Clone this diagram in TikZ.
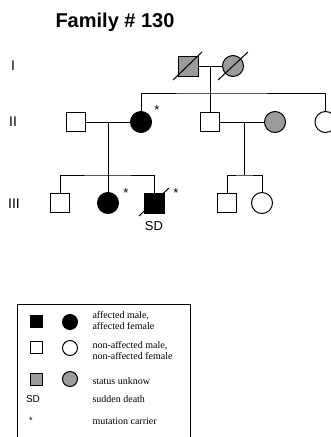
\documentclass[tikz,border=0pt]{standalone}
\usepackage{fontspec}
\setmainfont{Liberation Serif}
\newfontfamily\pedfont{Liberation Sans}
\usepackage{xcolor}
\usetikzlibrary{positioning}
\definecolor{unknowngray}{RGB}{155,155,155}
\tikzset{
  male/.style={draw, rectangle, minimum size=19pt, inner sep=0pt},
  female/.style={draw, circle, minimum size=21pt, inner sep=0pt},
  affected/.style={fill=black},
  unknown/.style={fill=unknowngray},
  gen/.style={font=\pedfont\fontsize{14}{14}\selectfont},
  carrier/.style={font=\pedfont\fontsize{13}{13}\selectfont, inner sep=0pt},
  legmale/.style={draw, rectangle, minimum size=12pt, inner sep=0pt},
  legfemale/.style={draw, circle, minimum size=15pt, inner sep=0pt},
  legtext/.style={font=\fontsize{10}{11}\selectfont, align=left, anchor=west, inner sep=0pt},
}

\begin{document}
\begin{tikzpicture}[x=1pt, y=-1pt, line width=1pt]
        \useasboundingbox (0,0) rectangle (331,437);

        \node [font=\pedfont\bfseries\fontsize{20}{20}\selectfont] (title) at (115,22) {Family \# 130};

        \node [gen] (genI) at (13,66) {I};
        \node [gen] (genII) at (13,122) {II};
        \node [gen] (genIII) at (14,204) {III};

        % generation I
        \node [male, minimum size=20pt, unknown] (grandpa) at (188,66) {};
        \node [female, unknown] (grandma) at (233,66) {};
        \draw ([shift={(-15,14)}]grandpa.center) -- ([shift={(14,-14)}]grandpa.center);
        \draw ([shift={(-15,14)}]grandma.center) -- ([shift={(15,-14)}]grandma.center);
        \coordinate (mateI) at (210,66);
        \coordinate (sibII) at (210,93);
        \draw (grandpa) -- (grandma);
        \draw (mateI) -- (sibII);

        % generation II
        \node [male] (husband) at (75.5,122) {};
        \node [female, affected] (daughter) at (141,122) {};
        \node [male] (son) at (210,122) {};
        \node [female, unknown] (wife) at (275,122) {};
        \node [female] (aunt) at (325.5,122) {};
        \node [carrier] (starII) at (157,110) {*};
        \draw (daughter.north) |- (sibII) -| (aunt.north);
        \draw (sibII) -- (son);
        \draw (husband) -- (daughter);
        \draw (son) -- (wife);
        \coordinate (mateIIa) at (108,122);
        \coordinate (sibIIIa) at (108,175);
        \coordinate (mateIIb) at (244,122);
        \coordinate (sibIIIb) at (244,175);
        \draw (mateIIa) -- (sibIIIa);
        \draw (mateIIb) -- (sibIIIb);

        % generation III
        \node [male] (grandson) at (60,203) {};
        \node [female, affected] (granddaughter) at (108,203) {};
        \node [male, minimum size=20pt, affected] (proband) at (154,203) {};
        \node [male] (nephew) at (227,203) {};
        \node [female] (niece) at (262,203) {};
        \draw ([shift={(-15,13)}]proband.center) -- ([shift={(15,-15)}]proband.center);
        \node [font=\pedfont\fontsize{13}{13}\selectfont, below=4pt of proband] (sd) {SD};
        \node [carrier] (starIIIa) at (126,193) {*};
        \node [carrier] (starIIIb) at (176,193) {*};
        \draw (grandson.north) |- (sibIIIa) -| (proband.north);
        \draw (sibIIIa) -- (granddaughter);
        \draw (nephew.north) |- (sibIIIb) -| (niece.north);

        % legend
        \draw (17,304) rectangle (190,447);
        \node [legmale, affected] (legm1) at (36,321) {};
        \node [legfemale, affected] (legf1) at (70,322) {};
        \node [legtext] (legt1) at (92,321) {affected male,\\affected female};
        \node [legmale] (legm2) at (36,347.5) {};
        \node [legfemale] (legf2) at (70,348) {};
        \node [legtext] (legt2) at (92,351) {non-affected male,\\non-affected female};
        \node [legmale, unknown] (legm3) at (36,379) {};
        \node [legfemale, unknown] (legf3) at (70,379) {};
        \node [legtext] (legt3) at (92,381) {status unknow};
        \node [font=\pedfont\fontsize{10}{10}\selectfont] (legsd) at (33,399) {SD};
        \node [legtext] (legt4) at (92,399) {sudden death};
        \node [carrier, font=\pedfont\fontsize{9}{9}\selectfont] (legstar) at (31,420) {*};
        \node [legtext] (legt5) at (92,421) {mutation carrier};
    \end{tikzpicture}
\end{document}
